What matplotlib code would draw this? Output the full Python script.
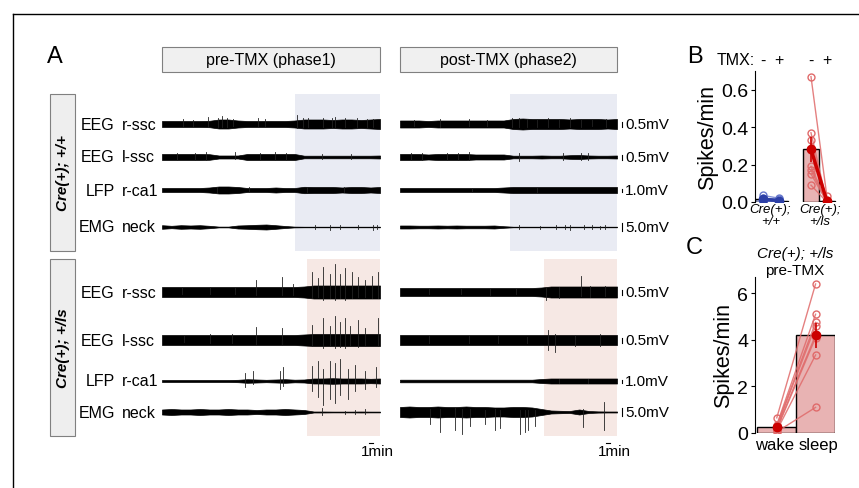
import numpy as np
import matplotlib
matplotlib.use("Agg")
import matplotlib.pyplot as plt
from matplotlib.patches import Rectangle
from matplotlib.lines import Line2D

plt.rcParams['font.family'] = ['Liberation Sans', 'DejaVu Sans']

# ---------------- data ----------------
phases = ["pre-TMX (phase1)", "post-TMX (phase2)"]
groups = ["Cre(+); +/+", "Cre(+); +/ls"]
channel_types = ["EEG", "EEG", "LFP", "EMG"]
channel_sites = ["r-ssc", "l-ssc", "r-ca1", "neck"]
scale_labels = ["0.5mV", "0.5mV", "1.0mV", "5.0mV"]
record_minutes = 60
sleep_onset_wt = [36.5, 30.5]      # minutes, pre / post
sleep_onset_ls = [40.0, 39.8]

# envelope half-amplitudes (display units) sampled evenly over the recording
env_wt_pre = [
    [3, 3, 3, 3, 3, 3.2, 4.5, 4.5, 3.5, 3, 3, 3, 3, 3, 3.5, 4.5, 4.5, 4.5, 4, 4.5, 4.5, 4, 4.5, 5],
    [3, 3, 3, 3, 3, 2.8, 1.5, 1.5, 1.5, 3, 3, 3, 3, 3, 3, 1.3, 1.3, 1.3, 1.3, 1.3, 1.3, 1.3, 1.3, 1.5],
    [2, 2, 2, 2, 2, 2.5, 3.5, 3.5, 3, 2, 2, 2, 2.5, 2, 2, 3.2, 3, 3, 3, 2.5, 3, 3, 2.5, 3],
    [1.8, 1.2, 1.8, 1.5, 1.8, 1.2, 0.4, 0.4, 1.5, 1.8, 2.2, 2.5, 1.8, 1.0, 0.4, 0.3, 0.3, 0.3, 0.3, 0.3, 0.3, 0.3, 0.3, 0.3],
]
env_wt_post = [
    [3.5, 3.5, 3.5, 3, 3.5, 3.5, 3.5, 3.5, 3.5, 3.5, 3.5, 3.5, 5, 5.5, 5, 5, 5, 5, 4.5, 5, 5, 5, 4.5, 5],
    [3, 3, 3, 2.5, 3, 3, 3, 3, 2.5, 2.5, 2.5, 2.5, 1.3, 1.3, 1.3, 1.5, 1.3, 1.3, 1.8, 2, 1.5, 1.3, 1.3, 1.5],
    [2, 2, 2, 2, 2, 2, 2, 2, 2, 2, 2, 2.5, 3, 3, 3, 3, 3, 3, 3, 3, 3, 3, 3, 3],
    [1.5, 1.5, 1.3, 1.3, 1.5, 1.3, 1.5, 1.3, 1.3, 1.3, 1.5, 0.8, 0.3, 0.3, 0.3, 0.3, 0.3, 0.3, 0.3, 0.3, 0.3, 0.3, 0.3, 0.3],
]
env_ls_pre = [
    [5, 5, 5, 5, 5, 5, 5, 5, 5, 5, 5, 5, 5, 5, 5, 5.5, 6.5, 6.5, 6.5, 6.5, 6.5, 6.5, 6.5, 6.5],
    [5, 5, 5, 5, 5, 5, 5, 5, 5, 5, 5, 5, 5, 5, 5, 5.5, 6, 6, 6, 6, 6, 6, 6, 6],
    [1, 1, 1, 1, 1, 1, 1, 1, 1.2, 1.8, 1.5, 1.2, 1.5, 1.8, 1.3, 1.5, 2.5, 2.5, 2.8, 2.5, 2.5, 2.5, 2.2, 2.5],
    [2.5, 3, 2.5, 2.5, 3, 2.5, 2.5, 3, 2.5, 2.5, 2, 2.5, 2.5, 3, 2.5, 2, 0.5, 0.5, 0.4, 0.4, 0.4, 0.5, 0.4, 0.4],
]
env_ls_post = [
    [4, 4, 4, 4, 4, 4, 4, 4, 4, 4, 4, 4, 4, 4, 4, 4.5, 5.5, 5.5, 5.5, 5.5, 5.5, 5.5, 5.5, 5.5],
    [5, 5, 5, 5, 5, 5, 5, 5, 5, 5, 5, 5, 5, 5, 5, 5, 5, 5, 5, 5, 5, 5, 5, 5],
    [1.3, 1.3, 1.3, 1.3, 1.3, 1.3, 1.3, 1.3, 1.3, 1.3, 1.3, 1.3, 1.3, 1.3, 1.3, 2, 2.5, 2.5, 2.5, 2.5, 2.5, 2.5, 2.5, 2.5],
    [5, 5.5, 5, 5, 5.5, 5, 5, 5.5, 5, 5, 4.5, 4.5, 5, 5, 4.5, 3, 1.5, 1.2, 1, 2.5, 1, 0.6, 0.5, 0.5],
]

# transient deflections: (time min, upward, downward)
spk_wt_pre = [
    [(5.8, 5, 2), (8.5, 4, 2), (12.7, 7, 3), (15.4, 6, 3), (16.5, 8, 3), (17.9, 6, 3), (19.5, 5, 2), (26.4, 6, 2),
     (28.3, 5, 2), (37.2, 9, 4), (38.8, 6, 3), (40.2, 6, 3), (44.3, 6, 3), (46.8, 6, 3), (47.6, 7, 3),
     (50.4, 6, 3), (53.7, 6, 3), (56.3, 5, 3), (58, 5, 3)],
    [(4, 4, 3), (9, 4, 3), (12, 5, 3), (20, 5, 2), (27, 4, 3), (31, 5, 3), (34, 4, 3), (44, 3, 2), (52, 3, 2)],
    [(15, 3, 3), (24, 3, 2), (40, 3, 2), (50, 3, 2)],
    [(42, 2, 2), (46.2, 2.5, 2.5), (49, 2, 2), (54, 2, 2), (58, 2.5, 2.5), (59.3, 2, 2)],
]
spk_wt_post = [
    [(4, 4, 2), (11, 5, 3), (19, 5, 2), (24, 4, 2), (31, 6, 3), (33, 6, 3), (35, 5, 3), (38, 5, 3), (41, 6, 3),
     (44, 5, 3), (47, 6, 3), (50, 5, 3), (53, 5, 2), (57, 5, 3)],
    [(3, 4, 3), (6, 4, 3), (13, 4, 3), (16, 4, 3), (19, 5, 3), (33, 4, 4), (45, 4, 3), (50, 4, 3), (52, 4, 3)],
    [(20, 2, 2), (38, 2, 2)],
    [(33, 2, 2), (38.7, 1.5, 1.5), (43, 2, 2), (45.6, 2, 2), (47, 2.5, 2.5), (51, 2, 2), (53, 2, 2), (55.3, 1.5, 1.5), (56.7, 2, 2)],
]
spk_ls_pre = [
    [(5.5, 5, 2), (13.2, 5, 2), (20, 4, 2), (26, 12, 3), (33, 15, 3), (36, 8, 3), (41.2, 20, 6), (42.9, 14, 5),
     (44.3, 25, 8), (46.2, 18, 6), (47.6, 28, 8), (49, 18, 6), (50.3, 24, 8), (52.2, 20, 6), (53.9, 15, 5),
     (55.8, 12, 5), (57.7, 16, 6), (59.4, 20, 6)],
    [(6, 4, 2), (13.2, 6, 3), (19.2, 6, 3), (26, 13, 4), (33, 12, 4), (41.2, 15, 6), (44.3, 22, 8), (46.2, 14, 6),
     (47.6, 24, 8), (49, 18, 7), (50.3, 22, 8), (51.7, 14, 6), (53.9, 20, 7), (55.8, 12, 5), (59.4, 22, 6)],
    [(22.8, 8, 6), (25, 10, 3), (32.5, 10, 8), (33.3, 14, 5), (41.2, 15, 10), (42.9, 20, 16), (44.3, 12, 24),
     (46.2, 20, 18), (47.6, 18, 22), (49, 22, 14), (51.2, 12, 18), (53, 16, 10), (56, 10, 8), (58.8, 14, 6)],
    [(44, 4, 3), (50.3, 1.5, 1.5), (53, 2, 2), (56, 3, 2)],
]
spk_ls_post = [
    [(8, 3, 2), (17, 3, 2), (25, 3, 3), (32, 3, 2), (40.5, 4, 8), (44, 5, 6), (50, 16, 4), (52.5, 6, 5), (56.6, 6, 4)],
    [(8, 4, 3), (19, 4, 3), (27, 4, 3), (35, 3, 3), (40.9, 10, 10), (42.9, 6, 12), (48.4, 5, 6), (55.3, 6, 6)],
    [(44, 2, 2), (52, 2, 2)],
    [(8.3, 3, 12), (11, 3, 20), (15.2, 4, 18), (17.1, 3, 22), (19.4, 3, 14), (23.5, 2, 12), (26.3, 3, 18),
     (27.7, 2, 16), (33.2, 2, 22), (34.6, 2, 20), (35.4, 2, 18), (37.3, 2, 14), (50.6, 3, 15), (56.4, 10, 18)],
]

# panel B: spikes/min per animal
tmx_labels = ["-", "+", "-", "+"]
b_group_labels = ["Cre(+);\n+/+", "Cre(+);\n+/ls"]
b_wt_pre = [0.035, 0.02, 0.012, 0.005, 0.0]
b_wt_post = [0.02, 0.015, 0.005, 0.0, 0.0]
b_ls_pre = [0.67, 0.37, 0.33, 0.28, 0.19, 0.17, 0.15, 0.09]
b_ls_post = [0.03, 0.0, 0.0, 0.01, 0.0, 0.0, 0.0, 0.0]

# panel C: Cre(+); +/ls pre-TMX, spikes/min
c_states = ["wake", "sleep"]
c_wake = [0.65, 0.35, 0.3, 0.25, 0.2, 0.15, 0.1, 0.05]
c_sleep = [6.4, 5.1, 4.75, 4.6, 4.2, 4.1, 3.35, 1.1]

# ---------------- figure ----------------
W, H = 859, 489
fig = plt.figure(figsize=(W / 100, H / 100), dpi=100)


def px_axes(x0, y0, x1, y1):
    return fig.add_axes([x0 / W, 1 - y1 / H, (x1 - x0) / W, (y1 - y0) / H])


def ftext(x, y, s, **kw):
    return fig.text(x / W, 1 - y / H, s, **kw)


def frect(x0, y0, x1, y1, **kw):
    r = Rectangle((x0 / W, 1 - y1 / H), (x1 - x0) / W, (y1 - y0) / H, transform=fig.transFigure, **kw)
    fig.add_artist(r)


# frame
fig.add_artist(Line2D([12.5 / W, 12.5 / W], [0, 1 - 15 / H], color='black', lw=1))
fig.add_artist(Line2D([12.5 / W, 1], [1 - 15 / H, 1 - 15 / H], color='black', lw=1))

# panel letters
ftext(47, 63, "A", fontsize=17, va='baseline')
ftext(687, 63, "B", fontsize=17, va='baseline')
ftext(686, 254, "C", fontsize=17, va='baseline')

# phase headers
col_x = [(162, 380), (400, 617)]
for (x0, x1), lab in zip(col_x, phases):
    frect(x0, 48, x1, 73, facecolor='#f0f0f0', edgecolor='#808080', lw=0.8)
    ftext((x0 + x1) / 2, 61, lab, fontsize=11.5, ha='center', va='center')

# group boxes
grp_y = [(95, 252), (260, 437)]
for (y0, y1), lab in zip(grp_y, groups):
    frect(50, y0, 75, y1, facecolor='#eeeeee', edgecolor='#808080', lw=0.8)
    ftext(62.5, (y0 + y1) / 2, lab, fontsize=11, rotation=90, ha='center', va='center',
          fontweight='bold', fontstyle='italic')

row_base = [[125, 158, 191, 228], [293, 341, 382, 413]]
scale_len = [5, 5, 3, 8]
shade_cols = ['#e9ebf3', '#f6e8e4']
envs = [[env_wt_pre, env_wt_post], [env_ls_pre, env_ls_post]]
spks = [[spk_wt_pre, spk_wt_post], [spk_ls_pre, spk_ls_post]]
onsets = [sleep_onset_wt, sleep_onset_ls]

for g in range(2):
    y0, y1 = grp_y[g]
    for ci in range(4):
        yb = row_base[g][ci]
        ftext(115, yb, channel_types[ci], fontsize=11.5, ha='right', va='center')
        ftext(122, yb, channel_sites[ci], fontsize=11.5, ha='left', va='center')
    for p in range(2):
        x0, x1 = col_x[p]
        ax = px_axes(x0, y0, x1, y1)
        ax.set_xlim(0, record_minutes)
        ax.set_ylim(y1, y0)
        ax.axis('off')
        ax.axvspan(onsets[g][p], record_minutes, color=shade_cols[g], lw=0, zorder=0)
        for ci in range(4):
            base = row_base[g][ci]
            e = np.asarray(envs[g][p][ci], dtype=float)
            t = np.linspace(0, record_minutes, len(e))
            ax.fill_between(t, base - e, base + e, color='black', lw=0.5, zorder=2)
            for tm, up, dn in spks[g][p][ci]:
                ax.plot([tm, tm], [base - up, base + dn], color='#222222', lw=0.6, zorder=2)
            if p == 1:
                ax.plot([61.4, 61.4], [base - scale_len[ci] / 2, base + scale_len[ci] / 2],
                        color='black', lw=0.8, clip_on=False)
                ax.text(62.2, base, scale_labels[ci], fontsize=11, va='center', ha='left', clip_on=False)
        if g == 1:
            ax.plot([57, 58], [443.5, 443.5], color='black', lw=0.8, clip_on=False)
            ax.text(59.2, 445, "1min", fontsize=11, ha='center', va='top', clip_on=False)

# ---------------- panel B ----------------
red_line = '#e06a6a'
red_dark = '#cc0000'
blue_pt = '#6677cc'
blue_dark = '#2c3fa6'
bar_pink = '#e8b3b3'

axB = px_axes(755, 72, 842, 203)
xB = [0, 1, 3, 4]
b_sets = [b_wt_pre, b_wt_post, b_ls_pre, b_ls_post]
means = [np.mean(v) for v in b_sets]
sems = [np.std(v, ddof=1) / np.sqrt(len(v)) for v in b_sets]
bar_fc = ['#aab3e0', '#aab3e0', bar_pink, bar_pink]
for i in range(4):
    axB.bar(xB[i], means[i], width=1.05, color=bar_fc[i], edgecolor='black', lw=1, zorder=1)
for a, b in zip(b_wt_pre, b_wt_post):
    axB.plot([0, 1], [a, b], color=blue_pt, lw=1, alpha=0.8, zorder=2)
for a, b in zip(b_ls_pre, b_ls_post):
    axB.plot([3, 4], [a, b], color=red_line, lw=1, alpha=0.85, zorder=2)
axB.plot([0] * len(b_wt_pre), b_wt_pre, 'o', ms=5, mfc='none', mec=blue_pt, mew=1, zorder=3)
axB.plot([1] * len(b_wt_post), b_wt_post, 'o', ms=5, mfc='none', mec=blue_pt, mew=1, zorder=3)
axB.plot([3] * len(b_ls_pre), b_ls_pre, 'o', ms=5, mfc='none', mec=red_line, mew=1, zorder=3)
axB.plot([4] * len(b_ls_post), b_ls_post, 'o', ms=5, mfc='none', mec=red_line, mew=1, zorder=3)
axB.errorbar([0, 1], means[:2], yerr=sems[:2], color=blue_dark, lw=2.5, marker='o', ms=6, capsize=0, zorder=4)
axB.errorbar([3, 4], means[2:], yerr=sems[2:], color=red_dark, lw=2.5, marker='o', ms=6, capsize=0,
             elinewidth=1.2, zorder=4)
axB.set_xlim(-0.52, 4.95)
axB.set_ylim(0, 0.7)
axB.set_yticks([0.0, 0.2, 0.4, 0.6])
axB.set_yticklabels(["0.0", "0.2", "0.4", "0.6"])
axB.set_xticks([0.45, 3.55])
axB.set_xticklabels(b_group_labels, fontsize=9.5, fontstyle='italic', linespacing=0.95)
axB.tick_params(axis='x', length=0, pad=1)
axB.tick_params(axis='y', labelsize=14, length=3, pad=2)
for s in ['top', 'right', 'bottom']:
    axB.spines[s].set_visible(False)
axB.set_ylabel("Spikes/min", fontsize=15.5, labelpad=2)
axB.patch.set_alpha(0)
for xi, lab in zip(xB, tmx_labels):
    axB.text(xi, 0.735, lab, ha='center', va='baseline', fontsize=11.5, clip_on=False)
axB.text(-0.55, 0.735, "TMX:", ha='right', va='baseline', fontsize=11.5, clip_on=False)

# ---------------- panel C ----------------
axC = px_axes(755, 278, 835, 434)
xC = [0, 1]
mC = [np.mean(c_wake), np.mean(c_sleep)]
sC = [np.std(c_wake, ddof=1) / np.sqrt(len(c_wake)), np.std(c_sleep, ddof=1) / np.sqrt(len(c_sleep))]
axC.bar(xC, mC, width=1.0, color=bar_pink, edgecolor='black', lw=1, zorder=1)
for a, b in zip(c_wake, c_sleep):
    axC.plot([0, 1], [a, b], color=red_line, lw=1, alpha=0.85, zorder=2)
axC.plot([0] * len(c_wake), c_wake, 'o', ms=5, mfc='none', mec=red_line, mew=1, zorder=3)
axC.plot([1] * len(c_sleep), c_sleep, 'o', ms=5, mfc='none', mec=red_line, mew=1, zorder=3)
axC.errorbar(xC, mC, yerr=sC, fmt='o', color=red_dark, ms=6, capsize=0, elinewidth=1.2, zorder=4)
axC.set_xlim(-0.56, 1.5)
axC.set_ylim(0, 6.7)
axC.set_yticks([0, 2, 4, 6])
axC.set_xticks([-0.06, 1.07])
axC.set_xticklabels(c_states, fontsize=12)
axC.tick_params(axis='x', length=0, pad=3)
axC.tick_params(axis='y', labelsize=14, length=3, pad=2)
for s in ['top', 'right', 'bottom']:
    axC.spines[s].set_visible(False)
axC.set_ylabel("Spikes/min", fontsize=15.5, labelpad=2)
axC.patch.set_alpha(0)
axC.text(0.5, 1.11, "Cre(+); +/ls", transform=axC.transAxes, ha='center', va='bottom',
         fontsize=11, fontstyle='italic')
axC.text(0.5, 1.0, "pre-TMX", transform=axC.transAxes, ha='center', va='bottom', fontsize=11)

fig.savefig("out.png", dpi=100)
